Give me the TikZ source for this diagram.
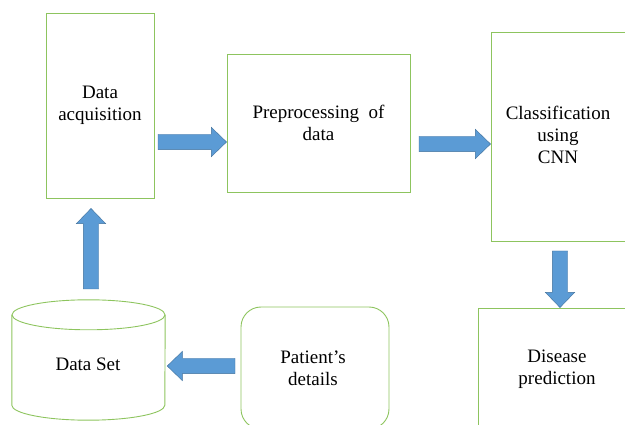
\documentclass[tikz,border=0pt]{standalone}
\usepackage{fontspec}
\setmainfont{Liberation Serif}
\usetikzlibrary{calc,shapes.arrows}
\definecolor{boxGreen}{HTML}{8DC45E}
\definecolor{arrFill}{HTML}{5B9BD5}
\definecolor{arrLine}{HTML}{41719C}

\begin{document}
\begin{tikzpicture}[x=1pt,y=-1pt,font=\fontsize{19}{22}\selectfont,
      b/.style={draw=boxGreen,line width=0.9pt,align=center,inner sep=0pt},
      edge/.style={draw=boxGreen,line width=0.9pt},
      barrow/.style={single arrow,draw=arrLine,fill=arrFill,line width=0.4pt,
                inner xsep=0pt,inner ysep=7.5pt,outer sep=0pt,single arrow head extend=7pt,
                single arrow tip angle=88,allow upside down}]
    \clip (0,0) rectangle (625,425);
    \node[b,minimum width=108pt,minimum height=185pt] (acq) at (100,105.5) {Data\\acquisition};
    \node[b,minimum width=183pt,minimum height=138pt] (pre) at (318.5,123) {Preprocessing\ \ of\\data};
    \node[b,minimum width=150pt,minimum height=209pt] (cls) at (566,136.5) {};
    \node[align=center] at (558,135) {Classification\\using\\CNN};
    \node[b,minimum width=160pt,minimum height=130pt] (dis) at (558,373) {};
    \node[align=center] at (557,369) {Disease\\prediction};
    \node[b,rounded corners=20pt,minimum width=148pt,minimum height=122pt] (pat) at (315,368) {};
    \node[align=center] at (313,368) {Patient's\\details};

    % data set drum
    \node[minimum width=153pt,minimum height=120pt] (ds) at (88.5,360) {};
    \node at (88,364) {Data Set};
    \draw[edge] ($(ds.north)+(0,15)$) ellipse[x radius=76.5pt,y radius=15pt];
    \draw[edge] ($(ds.north west)+(0,15)$) -- ($(ds.south west)+(0,-15)$)
      arc[start angle=180,end angle=360,x radius=76.5pt,y radius=15pt]
      -- ($(ds.north east)+(0,15)$);

    % tails and tips of the block arrows
    \coordinate (t1) at (158,142);
    \coordinate (t2) at (419,144);
    \coordinate (t3) at (91,289);
    \coordinate (t4) at (235,366);
    \coordinate (t5) at (560,251);
    \coordinate (h1) at (t1 -| pre.west);
    \coordinate (h2) at (t2 -| cls.west);
    \coordinate (h3) at ($(t3 |- acq.south)+(0,10)$);
    \coordinate (h4) at ($(t4 -| ds.east)+(2,0)$);
    \coordinate (h5) at (t5 |- dis.north);

    \foreach \a/\b in {t1/h1,t2/h2,t3/h3,t4/h4,t5/h5}
      \path let \p1=(\a),\p2=(\b),\n1={veclen(\x2-\x1,\y2-\y1)} in
        (\p1) -- node[barrow,sloped,pos=0,anchor=tail,minimum height=\n1] {} (\p2);
  \end{tikzpicture}
\end{document}
